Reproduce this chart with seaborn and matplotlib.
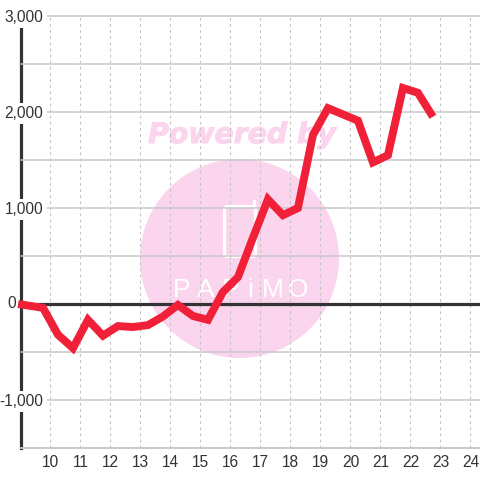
import matplotlib
matplotlib.use("Agg")
import matplotlib.pyplot as plt
import matplotlib.patheffects as pe
from matplotlib.patches import Circle, FancyBboxPatch, Rectangle
from matplotlib.transforms import Affine2D
import pandas as pd
import seaborn as sns

hours = [8.92, 9.75, 10.25, 10.75, 11.25, 11.75, 12.25, 12.75, 13.25, 13.75, 14.25, 14.75, 15.25, 15.75,
         16.25, 16.75, 17.25, 17.75, 18.25, 18.75, 19.25, 19.75, 20.25, 20.75, 21.25, 21.75, 22.25, 22.75]
values = [0, -40, -320, -460, -165, -330, -230, -240, -220, -130, -10, -125, -165, 125,
          280, 690, 1090, 925, 1000, 1760, 2040, 1975, 1910, 1475, 1550, 2250, 2200, 1950]
x_ticks = list(range(10, 25))
y_ticks = [-1500, -1000, -500, 0, 500, 1000, 1500, 2000, 2500, 3000]
y_labels = ["", "-1,000", "", "", "", "1,000", "", "2,000", "", "3,000"]
logo_letters = ["P", "A", "P", "i", "M", "O"]
logo_x = [182, 206, 231, 250, 273, 298]

sns.set_style("white")
plt.rcParams["font.family"] = ["Liberation Sans", "DejaVu Sans"]

df = pd.DataFrame({"hour": hours, "value": values})

fig = plt.figure(figsize=(4.8, 4.8), dpi=100)
ax = fig.add_axes([20.5 / 480, 32 / 480, 459.5 / 480, 432 / 480])
ax.set_xlim(9, 24.32)
ax.set_ylim(-1500, 3000)

# watermark, in pixels of the picture
px = Affine2D().scale(1 / 480, -1 / 480).translate(0, 1) + fig.transFigure
pink = "#fbd5ee"
ax.add_patch(Circle((239.5, 258.5), 99.5, color=pink, lw=0, transform=px, zorder=0.1, clip_on=False))
ax.add_patch(FancyBboxPatch((224.5, 206.5), 31, 50, boxstyle="round,pad=0,rounding_size=3", fc="none", ec="white",
                            lw=2.2, transform=px, zorder=0.2, clip_on=False))
ax.add_patch(Rectangle((253, 200), 3, 7, color="white", lw=0, transform=px, zorder=0.2, clip_on=False))
for letter, lx in zip(logo_letters, logo_x):
    ax.text(lx, 290, letter, color="white", fontsize=19, family="Liberation Sans",
            ha="center", va="center", transform=px, zorder=0.2, clip_on=False)
ax.text(242, 135, "Powered by", color=pink, fontsize=20.4, family="DejaVu Sans", weight="bold", style="oblique",
        ha="center", va="center", transform=px, zorder=0.2, clip_on=False,
        path_effects=[pe.withStroke(linewidth=0.8, foreground=pink)])

ax.set_axisbelow(True)
ax.set_xticks(x_ticks)
ax.set_yticks(y_ticks)
ax.set_yticklabels(y_labels)
ax.grid(axis="y", color="#c8c8c8", lw=1.1, clip_on=False)
ax.grid(axis="x", color="#c4c4c4", lw=0.8, ls=(0, (2.5, 3)))
for line in ax.get_ygridlines():
    line.set_clip_on(False)

ax.tick_params(axis="x", length=0, pad=5, labelsize=11.2, labelcolor="#333333")
ax.tick_params(axis="y", length=0, pad=-16.5, labelsize=11.2, labelcolor="#333333")
for label in ax.get_yticklabels():
    if label.get_text():
        label.set_bbox(dict(facecolor="white", edgecolor="none", boxstyle="square,pad=0.2"))
ax.annotate("0", xy=(0, 0), xycoords=ax.get_yaxis_transform(), xytext=(-3, 0), textcoords="offset points",
            ha="right", va="center", fontsize=11.2, color="#333333", annotation_clip=False)

for side in ["top", "right"]:
    ax.spines[side].set_visible(False)
ax.spines["bottom"].set_color("#c8c8c8")
ax.spines["bottom"].set_linewidth(1.1)
ax.spines["bottom"].set_zorder(0.3)
ax.spines["left"].set_color("#333333")
ax.spines["left"].set_linewidth(2.3)
ax.spines["left"].set_zorder(0.3)

ax.hlines(0, 9.6, 24.32, color="#333333", lw=2.3, zorder=1)
sns.lineplot(data=df, x="hour", y="value", color="#f02038", lw=5.7, ax=ax, zorder=2,
             solid_joinstyle="miter", solid_capstyle="butt", clip_on=False)
ax.set_xlabel("")
ax.set_ylabel("")

fig.savefig("out.png", dpi=100)
